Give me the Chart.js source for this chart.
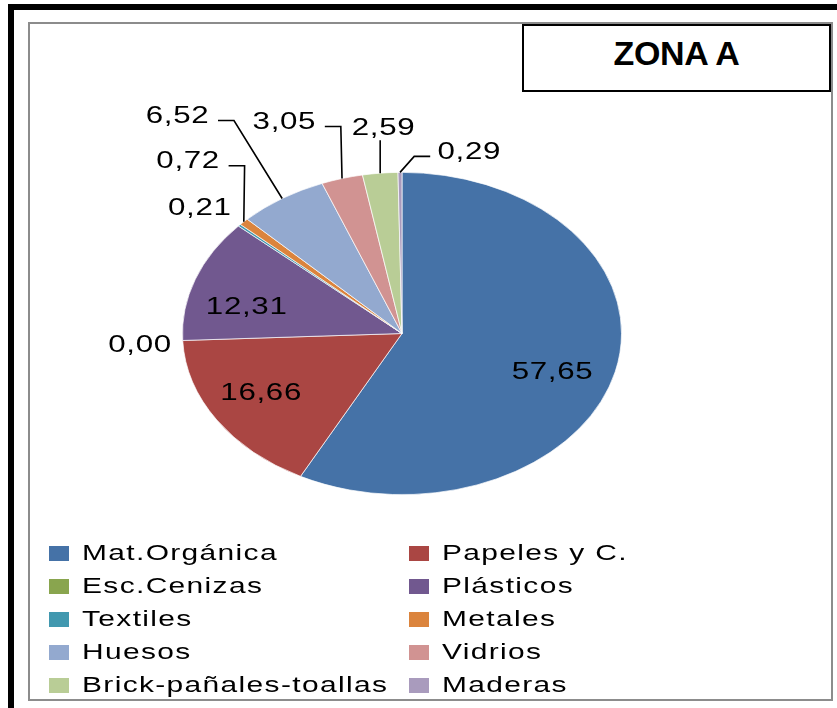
<!DOCTYPE html>
<html>
<head>
<meta charset="utf-8">
<script src="https://cdn.jsdelivr.net/npm/chart.js@4.4.1/dist/chart.umd.min.js"></script>
<style>
  html, body { margin: 0; padding: 0; background: #fff; }
  body { width: 837px; height: 708px; position: relative; overflow: hidden; font-family: "Liberation Sans", Arial, sans-serif; }
  #edgeLeft { position: absolute; left: 8px; top: 4px; width: 6px; height: 704px; background: #000; }
  #edgeTop { position: absolute; left: 8px; top: 4px; width: 829px; height: 6px; background: #000; }
  #frame { position: absolute; left: 28px; top: 22px; width: 801px; height: 675px; border: 2px solid #8c8c8c; }
  #pie { position: absolute; left: 0; top: 0; }
  #titleBox { position: absolute; left: 522px; top: 24px; width: 305px; height: 64px; border: 2px solid #000; background: #fff;
    font-weight: bold; font-size: 34px; text-align: center; line-height: 54px; letter-spacing: -0.3px; }
  .key { position: absolute; font-size: 22px; color: #000; white-space: nowrap; }
  .key span { position: absolute; left: 0; top: 7px; width: 20px; height: 15px; }
  .key b { font-weight: normal; position: absolute; left: 33px; top: 0; line-height: 28px; letter-spacing: 1px;
    transform: scaleX(1.36); transform-origin: left center; }
</style>
</head>
<body>
<div id="edgeLeft"></div>
<div id="edgeTop"></div>
<div id="frame"></div>
<canvas id="pie" width="837" height="708"></canvas>
<div id="titleBox">ZONA A</div>
<div id="legend"></div>
<script>
// data
const categories = ['Mat.Orgánica', 'Papeles y C.', 'Esc.Cenizas', 'Plásticos', 'Textiles',
                    'Metales', 'Huesos', 'Vidrios', 'Brick-pañales-toallas', 'Maderas'];
const values = [57.65, 16.66, 0.00, 12.31, 0.21, 0.72, 6.52, 3.05, 2.59, 0.29];
const colors = ['#4572A7', '#AA4643', '#89A54E', '#71588F', '#4198AF',
                '#DB843D', '#93A9CF', '#D19392', '#B9CD96', '#A99BBD'];

// where each value label sits, relative to the rim point of its slice, and where its leader leaves the text
const labelPlace = [
    [-63, 1, ''], [44, -26, ''], [-43, 5.5, ''], [51, 28, ''], [-40, -17, ''],
    [-56, -60, 'right'], [-105, -82, 'right'], [-58, -56, 'right'], [3, -45, 'below'], [69, -20, 'left']
];

// the original picture is stretched sideways: the pie is an ellipse and text is wide
const squash = 161.5 / 220;
const stretch = 1.36;

const fmt = v => v.toFixed(2).replace('.', ',');

const flatten = {
    id: 'flatten',
    beforeDatasetsDraw(chart) {
        const arc = chart.getDatasetMeta(0).data[0];
        const ctx = chart.ctx;
        ctx.save();
        ctx.translate(arc.x, arc.y);
        ctx.scale(1, squash);
        ctx.translate(-arc.x, -arc.y);
    },
    afterDatasetsDraw(chart) {
        chart.ctx.restore();
    }
};

const valueLabels = {
    id: 'valueLabels',
    afterDraw(chart) {
        const ctx = chart.ctx;
        ctx.save();
        ctx.font = '23px "Liberation Sans"';
        if ('letterSpacing' in ctx) ctx.letterSpacing = '0.5px';
        ctx.fillStyle = '#000';
        ctx.strokeStyle = '#000';
        ctx.lineWidth = 1.6;
        ctx.textBaseline = 'middle';
        ctx.textAlign = 'center';
        chart.getDatasetMeta(0).data.forEach((arc, i) => {
            const mid = (arc.startAngle + arc.endAngle) / 2;
            const ax = arc.x + arc.outerRadius * Math.cos(mid);
            const ay = arc.y + arc.outerRadius * squash * Math.sin(mid);
            const [dx, dy, lead] = labelPlace[i];
            const tx = ax + dx, ty = ay + dy;
            const txt = fmt(values[i]);
            const w = ctx.measureText(txt).width * stretch;
            ctx.save();
            ctx.translate(tx, ty);
            ctx.scale(stretch, 1);
            ctx.fillText(txt, 0.25, 0);
            ctx.restore();
            if (!lead) return;
            ctx.beginPath();
            if (lead === 'below') {
                ctx.moveTo(ax, ty + 12);
                ctx.lineTo(ax, ay);
            } else {
                const sx = lead === 'right' ? tx + w / 2 + 9 : tx - w / 2 - 7;
                const ex = lead === 'right' ? sx + 16 : sx - 16;
                const sy = ty + 4;
                ctx.moveTo(sx, sy);
                ctx.lineTo(ex, sy);
                ctx.lineTo(ax, ay);
            }
            ctx.stroke();
        });
        ctx.restore();
    }
};

new Chart(document.getElementById('pie'), {
    type: 'pie',
    data: {
        labels: categories,
        datasets: [{
            data: values,
            backgroundColor: colors,
            borderColor: 'rgba(255,255,255,0.8)',
            borderWidth: 1
        }]
    },
    options: {
        responsive: false,
        animation: false,
        events: [],
        layout: { padding: { left: 182, right: 215, top: 113.5, bottom: 154.5 } },
        plugins: { legend: { display: false }, tooltip: { enabled: false } }
    },
    plugins: [flatten, valueLabels]
});

// legend in two columns, filled row by row
const legend = document.getElementById('legend');
categories.forEach((name, i) => {
    const item = document.createElement('div');
    item.className = 'key';
    item.style.left = (i % 2 === 0 ? 49 : 409) + 'px';
    item.style.top = (539 + Math.floor(i / 2) * 33) + 'px';
    item.innerHTML = '<span style="background:' + colors[i] + '"></span><b>' + name + '</b>';
    legend.appendChild(item);
});
</script>
</body>
</html>
